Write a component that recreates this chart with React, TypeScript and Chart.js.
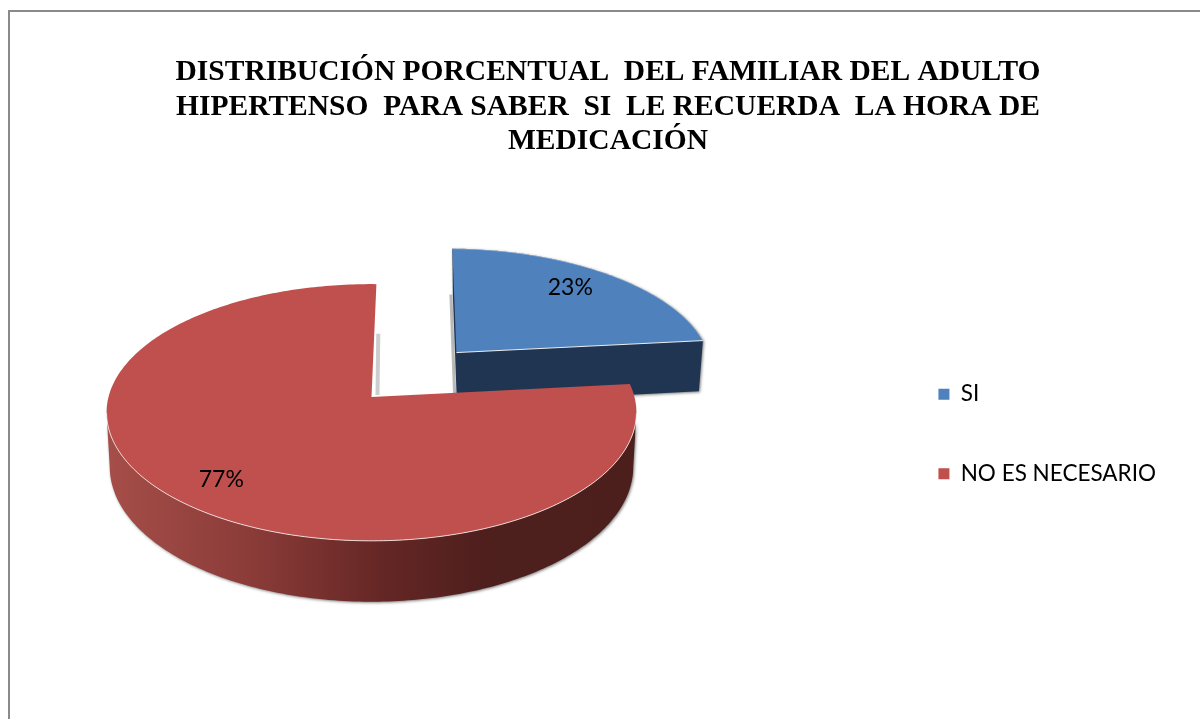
import React, { useEffect, useRef } from "react";
import { Chart, registerables } from "chart.js";

Chart.register(...registerables);

const categories = ["SI", "NO ES NECESARIO"];
const seriesValues = [23, 77];
const sliceColors = ["#4f81bd", "#c0504d"];
const explode = [131, 0];
const titleLines = [
  "DISTRIBUCIÓN PORCENTUAL  DEL FAMILIAR DEL ADULTO",
  "HIPERTENSO  PARA SABER  SI  LE RECUERDA  LA HORA DE",
  "MEDICACIÓN",
];
const labelNudgeX = [-7, 1];
const labelNudgeY = [-2, 3];

// camera used to project the pie's disc on to the page
const APEX_X = 371.5;
const APEX_Y = 397;
const TILT = 0.481;
const PERSPECTIVE = 0.1206;
const WALL = 53.5;
const BOTTOM_SCALE = 0.988;
const LABEL_RADIUS = 0.79;

type P = { x: number; y: number; w: number };

const pie3d = {
  id: "pie3d",
  beforeDatasetsDraw(chart: any) {
    const ctx = chart.ctx as CanvasRenderingContext2D;
    const arcs = chart.getDatasetMeta(0).data;

    const project = (u: number, v: number, R: number): P => {
      const w = 1 - PERSPECTIVE * v;
      return { x: APEX_X + (R * u) / w, y: APEX_Y + (R * TILT * v) / w, w };
    };
    const down = (p: P): P => ({
      x: APEX_X + (p.x - APEX_X) * BOTTOM_SCALE,
      y: p.y + WALL / p.w,
      w: p.w,
    });

    const geometry = (arc: any) => {
      const R = arc.outerRadius;
      const a0 = arc.startAngle + Math.PI / 2;
      const a1 = arc.endAngle + Math.PI / 2;
      const mid = (a0 + a1) / 2;
      const d = (arc.options.offset || 0) / R;
      const ou = d * Math.sin(mid);
      const ov = -d * Math.cos(mid);
      const rim: P[] = [];
      const n = Math.max(24, Math.round((a1 - a0) * 60));
      for (let i = 0; i <= n; i++) {
        const t = a0 + ((a1 - a0) * i) / n;
        rim.push(project(ou + Math.sin(t), ov - Math.cos(t), R));
      }
      return { R, mid, ou, ov, rim, apex: project(ou, ov, R) };
    };

    const poly = (pts: P[]) => {
      ctx.beginPath();
      pts.forEach((p, i) => (i ? ctx.lineTo(p.x, p.y) : ctx.moveTo(p.x, p.y)));
      ctx.closePath();
    };
    const stroke = (pts: P[], color: string, width: number) => {
      ctx.beginPath();
      pts.forEach((p, i) => (i ? ctx.lineTo(p.x, p.y) : ctx.moveTo(p.x, p.y)));
      ctx.strokeStyle = color;
      ctx.lineWidth = width;
      ctx.stroke();
    };

    const shadowed = (fn: () => void) => {
      ctx.save();
      ctx.shadowColor = "rgba(0,0,0,0.5)";
      ctx.shadowBlur = 3;
      ctx.shadowOffsetX = 1;
      ctx.shadowOffsetY = 1;
      fn();
      ctx.restore();
    };

    // SI: the exploded slice, behind the other one
    {
      const g = geometry(arcs[0]);
      const last = g.rim[g.rim.length - 1];
      const first = g.rim[0];
      const lowFirst = down(first);
      const lowApex = { ...down(g.apex), x: g.apex.x + 0.5 };
      const sliver = { x: first.x + 0.5, y: lowFirst.y, w: 1 };
      // soft shadow left of the cut face
      stroke(
        [
          { x: sliver.x - 2, y: sliver.y, w: 1 },
          { x: lowApex.x - 2, y: lowApex.y, w: 1 },
        ],
        "rgba(120,120,120,0.5)",
        3
      );
      shadowed(() => {
        poly([first, ...g.rim, down(last), lowApex, sliver]);
        ctx.fillStyle = "#1f3552";
        ctx.fill();
      });
      poly([g.apex, ...g.rim]);
      ctx.fillStyle = arcs[0].options.backgroundColor;
      ctx.fill();
      stroke([g.apex, last], "rgba(255,255,255,0.9)", 1);
      stroke(g.rim, "rgba(255,255,255,0.45)", 1);
    }

    // NO ES NECESARIO
    {
      const g = geometry(arcs[1]);
      // only the part of the rim facing the viewer has a visible wall
      let right = 0;
      let left = 0;
      g.rim.forEach((p, i) => {
        if (p.x > g.rim[right].x) right = i;
        if (p.x < g.rim[left].x) left = i;
      });
      const front = g.rim.slice(right, left + 1);
      const bottom = front.map(down);
      const wall = [...front, ...bottom.slice().reverse()];
      const grad = ctx.createLinearGradient(107, 0, 632, 0);
      grad.addColorStop(0, "#a64e49");
      grad.addColorStop(0.28, "#8a3b38");
      grad.addColorStop(0.52, "#652725");
      grad.addColorStop(0.72, "#4e1f1d");
      grad.addColorStop(1, "#4c1f1d");
      shadowed(() => {
        poly(wall);
        ctx.fillStyle = grad;
        ctx.fill();
      });
      // soft shadow beside the cut at the top of the notch
      const topCut = g.rim[g.rim.length - 1];
      const along = 0.56;
      stroke(
        [
          { x: g.apex.x + (topCut.x - g.apex.x) * along + 4, y: g.apex.y + (topCut.y - g.apex.y) * along, w: 1 },
          { x: g.apex.x + 6, y: g.apex.y - 2, w: 1 },
        ],
        "rgba(130,130,130,0.4)",
        4
      );
      poly([g.apex, ...g.rim]);
      ctx.fillStyle = arcs[1].options.backgroundColor;
      ctx.fill();
      stroke(front, "rgba(255,255,255,0.75)", 1);
    }

    // percentage labels
    const total = seriesValues.reduce((a, b) => a + b, 0);
    ctx.fillStyle = "#000";
    ctx.font = "23px Lato";
    ctx.textAlign = "center";
    ctx.textBaseline = "middle";
    arcs.forEach((arc: any, i: number) => {
      const g = geometry(arc);
      const p = project(
        g.ou + LABEL_RADIUS * Math.sin(g.mid),
        g.ov - LABEL_RADIUS * Math.cos(g.mid),
        g.R
      );
      ctx.fillText(
        `${Math.round((seriesValues[i] / total) * 100)}%`,
        p.x + labelNudgeX[i],
        p.y + labelNudgeY[i]
      );
    });
    return false;
  },
};

const frame = {
  id: "frame",
  beforeDraw(chart: any) {
    const ctx = chart.ctx as CanvasRenderingContext2D;
    ctx.save();
    ctx.fillStyle = "#fff";
    ctx.fillRect(0, 0, chart.width, chart.height);
    ctx.fillStyle = "#8a8a8a";
    ctx.fillRect(8, 10, chart.width - 8, 2);
    ctx.fillRect(8, 10, 2, chart.height - 10);
    ctx.restore();
  },
};

export default function App() {
  const ref = useRef<HTMLCanvasElement | null>(null);
  useEffect(() => {
    document.body.style.margin = "0";
    const chart = new Chart(ref.current as HTMLCanvasElement, {
      type: "pie",
      data: {
        labels: categories,
        datasets: [
          {
            data: seriesValues,
            backgroundColor: sliceColors,
            offset: explode,
            radius: 263,
            borderWidth: 0,
          } as any,
        ],
      },
      plugins: [frame, pie3d],
      options: {
        responsive: false,
        animation: false,
        rotation: 1.2,
        layout: { padding: { left: 50, right: 34, top: 55, bottom: 10 } },
        plugins: {
          tooltip: { enabled: false },
          title: {
            display: true,
            text: titleLines,
            color: "#000",
            font: { family: "'Liberation Serif'", size: 29.5, weight: "bold", lineHeight: 1.175 },
            padding: { top: 0, bottom: 0 },
          },
          legend: {
            display: true,
            position: "right",
            fullSize: false,
            labels: {
              color: "#000",
              boxWidth: 11,
              boxHeight: 11,
              padding: 57,
              font: { family: "Lato", size: 22.5 },
            },
          },
        },
      } as any,
    });
    return () => chart.destroy();
  }, []);
  return <canvas ref={ref} width={1200} height={719} style={{ display: "block" }} />;
}
